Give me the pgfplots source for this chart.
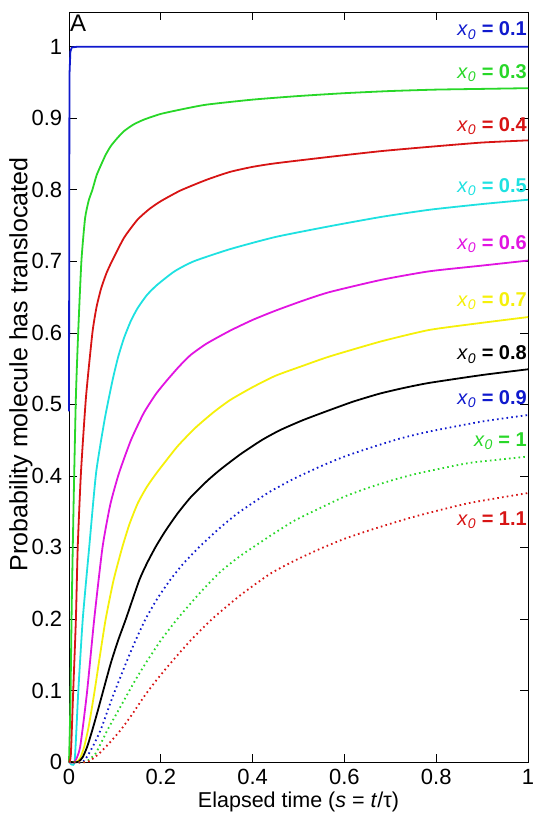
\documentclass[border=0pt]{standalone}
\usepackage{pgfplots}
\pgfplotsset{compat=1.18}
\usepackage{fontspec}
\setmainfont{Liberation Sans}

% MATLAB-like line colours
\definecolor{mblue}{RGB}{15,25,205}
\definecolor{mgreen}{RGB}{40,215,40}
\definecolor{mred}{RGB}{215,20,20}
\definecolor{mcyan}{RGB}{30,225,225}
\definecolor{mmag}{RGB}{225,20,225}
\definecolor{myel}{RGB}{245,240,10}

\newcommand{\lab}[1]{\textit{x}\textsubscript{\textit{0}} \textbf{= #1}}

\begin{document}
\fontsize{20}{24}\selectfont
\begin{tikzpicture}
\useasboundingbox (-69pt,-52pt) rectangle (465pt,762pt);
\begin{axis}[
    scale only axis,
    width=459pt, height=750pt,
    xmin=0, xmax=1, ymin=0, ymax=1.0485,
    xtick={0,0.2,0.4,0.6,0.8,1},
    ytick={0,0.1,0.2,0.3,0.4,0.5,0.6,0.7,0.8,0.9,1},
    tick align=inside,
    major tick length=8pt,
    tick style={black, line width=0.6pt},
    axis line style={line width=0.8pt},
    /pgf/number format/assume math mode=true,
    tick label style={font=\fontsize{22}{26}\selectfont},
    xlabel={Elapsed time (\textit{s} = \textit{t}/τ)},
    ylabel={Probability molecule has translocated},
    xlabel style={font=\fontsize{21.5}{26}\selectfont,
        at={(axis description cs:0.5,0)}, anchor=center, yshift=-40pt},
    ylabel style={font=\fontsize{25}{28}\selectfont,
        at={(axis description cs:-0.105,0.53)}, anchor=center},
    clip=false,
    every axis plot/.append style={line width=1.8pt},
]
% x0 = 0.1
\addplot[mblue] coordinates {
 (0,0.49) (0.001,0.96) (0.003,0.993) (0.006,0.999) (0.02,1) (1,1)
};
% x0 = 0.3
\addplot[mgreen, smooth, tension=0.35] coordinates {
 (0,0) (0.003,0.08) (0.006,0.22) (0.01,0.36) (0.015,0.51) (0.020,0.60)
 (0.027,0.70) (0.035,0.76) (0.043,0.785) (0.051,0.80) (0.06,0.82) (0.07,0.835)
 (0.08,0.849) (0.091,0.861) (0.105,0.872) (0.12,0.882) (0.14,0.891)
 (0.163,0.898) (0.2,0.906) (0.25,0.913) (0.3,0.919) (0.4,0.926)
 (0.5,0.931) (0.6,0.935) (0.7,0.938) (0.8,0.940) (0.9,0.941) (1,0.942)
};
% x0 = 0.4
\addplot[mred, smooth, tension=0.35] coordinates {
 (0,0) (0.004,0.01) (0.009,0.096) (0.015,0.199) (0.019,0.30) (0.026,0.404)
 (0.037,0.51) (0.051,0.60) (0.06,0.636) (0.07,0.662) (0.082,0.684)
 (0.095,0.702) (0.12,0.733) (0.149,0.758) (0.175,0.773) (0.2,0.784)
 (0.243,0.799) (0.3,0.814) (0.351,0.825) (0.4,0.832) (0.45,0.837)
 (0.568,0.846) (0.68,0.854) (0.785,0.860) (0.9,0.866) (1,0.869)
};
% x0 = 0.5
\addplot[mcyan, smooth, tension=0.35] coordinates {
 (0,0) (0.012,0.0) (0.020,0.096) (0.030,0.20) (0.044,0.30) (0.059,0.404)
 (0.078,0.48) (0.095,0.534) (0.107,0.566) (0.12,0.593) (0.135,0.617)
 (0.15,0.635) (0.17,0.653) (0.192,0.667) (0.23,0.686) (0.272,0.700)
 (0.351,0.717) (0.45,0.734) (0.568,0.749) (0.68,0.762)
 (0.785,0.772) (0.9,0.780) (1,0.786)
};
% x0 = 0.6
\addplot[mmag, smooth, tension=0.35] coordinates {
 (0,0) (0.012,0) (0.024,0.02) (0.039,0.096) (0.055,0.20) (0.073,0.30)
 (0.09,0.36) (0.109,0.404) (0.135,0.45) (0.163,0.488) (0.19,0.515)
 (0.214,0.534) (0.24,0.553) (0.265,0.569) (0.3,0.585) (0.351,0.603)
 (0.4,0.618) (0.45,0.631) (0.51,0.645) (0.568,0.657) (0.68,0.674)
 (0.785,0.686) (0.9,0.694) (1,0.701)
};
% x0 = 0.7
\addplot[myel, smooth, tension=0.35] coordinates {
 (0,0) (0.015,0) (0.024,0.005) (0.033,0.021) (0.043,0.05) (0.055,0.096)
 (0.067,0.147) (0.080,0.20) (0.097,0.254) (0.116,0.30) (0.132,0.333)
 (0.15,0.362) (0.17,0.385) (0.192,0.405) (0.236,0.441) (0.275,0.467)
 (0.315,0.489) (0.351,0.506) (0.4,0.524) (0.45,0.540) (0.51,0.554)
 (0.568,0.567) (0.68,0.588) (0.785,0.604) (0.9,0.614) (1,0.622)
};
% x0 = 0.8
\addplot[black, smooth, tension=0.35] coordinates {
 (0,0) (0.02,0) (0.030,0.007) (0.04,0.022) (0.051,0.045) (0.062,0.07)
 (0.073,0.096) (0.091,0.138) (0.107,0.17) (0.124,0.20) (0.153,0.254)
 (0.17,0.278) (0.189,0.301) (0.21,0.323) (0.236,0.347) (0.265,0.370)
 (0.301,0.393) (0.33,0.409) (0.373,0.430) (0.42,0.450) (0.46,0.464)
 (0.51,0.478) (0.568,0.492) (0.62,0.504) (0.677,0.515) (0.73,0.523)
 (0.785,0.530) (0.9,0.541) (1,0.549)
};
% x0 = 0.9
\addplot[mblue, smooth, tension=0.35, dash pattern=on 1.6pt off 3.2pt] coordinates {
 (0,0) (0.03,0) (0.048,0.017) (0.069,0.045) (0.095,0.091) (0.124,0.138)
 (0.145,0.17) (0.167,0.20) (0.192,0.228) (0.221,0.255) (0.25,0.278)
 (0.286,0.302) (0.33,0.328) (0.366,0.347) (0.4,0.362)
 (0.438,0.378) (0.49,0.396) (0.547,0.413) (0.6,0.427) (0.655,0.439)
 (0.72,0.452) (0.785,0.462) (0.9,0.476) (1,0.485)
};
% x0 = 1
\addplot[mgreen, smooth, tension=0.35, dash pattern=on 1.6pt off 3.2pt] coordinates {
 (0,0) (0.035,0) (0.058,0.012) (0.084,0.045) (0.104,0.068) (0.124,0.091)
 (0.145,0.115) (0.167,0.138) (0.2,0.17) (0.236,0.20) (0.286,0.237)
 (0.33,0.266) (0.373,0.288) (0.438,0.316) (0.49,0.337)
 (0.547,0.355) (0.6,0.371) (0.655,0.384) (0.71,0.395) (0.764,0.404)
 (0.872,0.418) (1,0.427)
};
% x0 = 1.1
\addplot[mred, smooth, tension=0.35, dash pattern=on 1.6pt off 3.2pt] coordinates {
 (0,0) (0.04,0) (0.066,0.012) (0.09,0.028) (0.113,0.045) (0.138,0.067)
 (0.163,0.091) (0.19,0.114) (0.221,0.138) (0.265,0.170) (0.312,0.20)
 (0.373,0.233) (0.438,0.263) (0.49,0.281) (0.547,0.298) (0.6,0.312)
 (0.655,0.324) (0.71,0.335) (0.764,0.345) (0.872,0.362) (1,0.376)
};

\begin{scope}[every node/.style={anchor=base east, inner sep=1pt}]
\node[text=mblue]  at (axis cs:1,1.015) {\lab{0.1}};
\node[text=mgreen] at (axis cs:1,0.956) {\lab{0.3}};
\node[text=mred]   at (axis cs:1,0.882) {\lab{0.4}};
\node[text=mcyan]  at (axis cs:1,0.796) {\lab{0.5}};
\node[text=mmag]   at (axis cs:1,0.717) {\lab{0.6}};
\node[text=myel]   at (axis cs:1,0.637) {\lab{0.7}};
\node[text=black]  at (axis cs:1,0.562) {\lab{0.8}};
\node[text=mblue]  at (axis cs:1,0.500) {\lab{0.9}};
\node[text=mgreen] at (axis cs:1,0.441) {\lab{1}};
\node[text=mred]   at (axis cs:1,0.331) {\lab{1.1}};
\end{scope}
\node[anchor=north west, inner sep=1pt, font=\fontsize{24}{28}\selectfont]
  at (rel axis cs:0,0.998) {A};
\end{axis}
\end{tikzpicture}
\end{document}
